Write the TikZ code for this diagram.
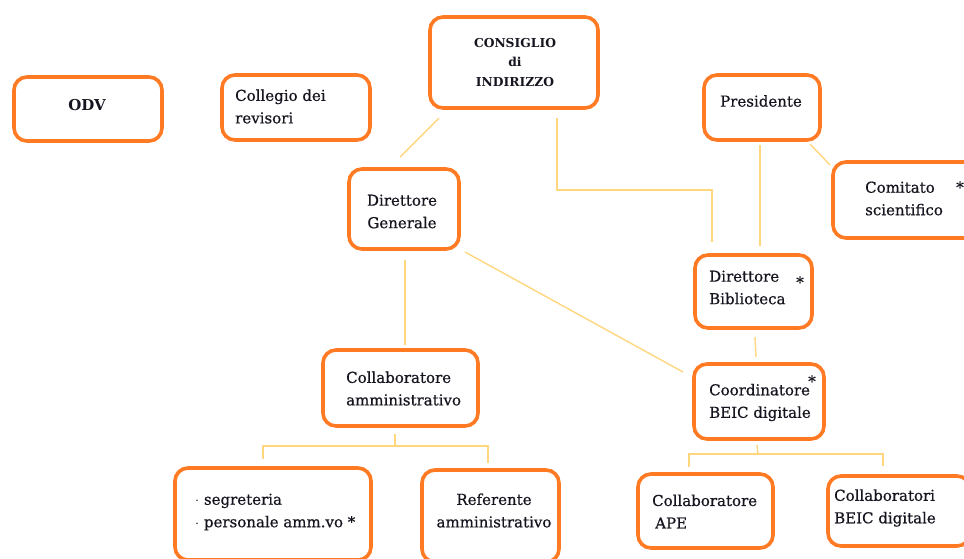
\documentclass[tikz,border=0pt]{standalone}
\usepackage{fontspec}
\setmainfont{DejaVu Serif}
\newfontfamily\heavyserif[FakeBold=0.6]{DejaVu Serif}
\usetikzlibrary{calc}
\definecolor{boxorange}{HTML}{FF7A22}
\definecolor{linkyellow}{HTML}{FFD77E}
\definecolor{txtcol}{HTML}{15151F}
\begin{document}
\begin{tikzpicture}[x=1pt,y=-1pt,
  orgbox/.style={draw=boxorange, line width=3.6pt, rounded corners=13pt, inner sep=0pt},
  lbl/.style={text=txtcol, font=\heavyserif\fontsize{15}{22.5}\selectfont, inner sep=0pt, align=left, anchor=west},
  lblc/.style={lbl, align=center, anchor=center},
  boldlbl/.style={text=txtcol, font=\bfseries\fontsize{12.3}{19.5}\selectfont, inner sep=0pt, align=center, anchor=center},
  link/.style={draw=linkyellow, line width=1.4pt}]
\useasboundingbox (0,0) rectangle (964,558);
\clip (0,0) rectangle (964,558);
\fill[white] (0,0) rectangle (964,558);

% boxes
\node[orgbox, minimum width=148pt, minimum height=64pt] (odv) at (88,109) {};
\node[orgbox, minimum width=148pt, minimum height=65pt] (col) at (296,107.5) {};
\node[orgbox, minimum width=168pt, minimum height=91pt] (cons) at (514,62.5) {};
\node[orgbox, minimum width=116pt, minimum height=65pt] (pres) at (762,107.5) {};
\node[orgbox, minimum width=150pt, minimum height=76pt] (com) at (908,200) {};
\node[orgbox, minimum width=110pt, minimum height=80pt] (dg) at (404,209) {};
\node[orgbox, minimum width=117pt, minimum height=73pt] (db) at (753.5,291.5) {};
\node[orgbox, minimum width=155pt, minimum height=76pt] (ca) at (400.5,388) {};
\node[orgbox, minimum width=130pt, minimum height=75pt] (cb) at (759,401.5) {};
\node[orgbox, minimum width=196pt, minimum height=92pt] (seg) at (273,514) {};
\node[orgbox, minimum width=137pt, minimum height=92pt] (ref) at (490.5,516) {};
\node[orgbox, minimum width=135pt, minimum height=74pt] (ape) at (705.5,511) {};
\node[orgbox, minimum width=142pt, minimum height=70pt] (cbd) at (899,511) {};

% texts
\node[boldlbl, font=\bfseries\fontsize{15}{18}\selectfont] (odvt) at (87,105) {ODV};
\node[lbl] (colt) at (235,106.5) {Collegio dei\\revisori};
\node[boldlbl] (const) at (515,62.5) {CONSIGLIO\\di\\INDIRIZZO};
\node[lblc] (prest) at (761,101) {Presidente};
\node[lbl] (comt) at (865,198.5) {Comitato\\scientifico};
\node[lblc] (comstar) at (960,187) {*};
\node[lblc] (dgt) at (402,211.5) {Direttore\\Generale};
\node[lbl] (dbt) at (709,287.5) {Direttore\\Biblioteca};
\node[lblc] (dbstar) at (800,282) {*};
\node[lbl] (cat) at (346,388.5) {Collaboratore\\amministrativo};
\node[lbl] (cbt) at (709,402.5) {Coordinatore\\BEIC digitale};
\node[lblc] (cbstar) at (812,381) {*};
\node[lbl] (segt) at (195,512) {$\cdot$ segreteria\\$\cdot$ personale amm.vo *};
\node[lblc] (reft) at (494,510.5) {Referente\\amministrativo};
\node[lbl] (apet) at (652,511.5) {Collaboratore\\\hspace*{3pt}APE};
\node[lbl] (cbdt) at (834,508) {Collaboratori\\BEIC digitale};

% connector ends
\coordinate (k1a) at (439,118);  \coordinate (k1b) at (400,157);
\coordinate (k2a) at (557,118);  \coordinate (k2m) at (712,190); \coordinate (k2b) at (712,242);
\coordinate (k3a) at (760,145);  \coordinate (k3b) at (760,246);
\coordinate (k4a) at (810,144);  \coordinate (k4b) at (830,165);
\coordinate (k5a) at (405,260);  \coordinate (k5b) at (405,345);
\coordinate (k6a) at (465,252);  \coordinate (k6b) at (683,372);
\coordinate (k7a) at (755,337);  \coordinate (k7b) at (756,357);
\coordinate (k8a) at (395,434);  \coordinate (k8m) at (395,446);
\coordinate (k8l) at (263,459);  \coordinate (k8r) at (488,463);
\coordinate (k9a) at (757,445);  \coordinate (k9m) at (758,454);
\coordinate (k9l) at (689,467);  \coordinate (k9r) at (883,466);

\draw[link] (k1a) -- (k1b);
\draw[link] (k2a) |- (k2m) -- (k2b);
\draw[link] (k3a) -- (k3b);
\draw[link] (k4a) -- (k4b);
\draw[link] (k5a) -- (k5b);
\draw[link] (k6a) -- (k6b);
\draw[link] (k7a) -- (k7b);
\draw[link] (k8a) -- (k8m);
\draw[link] (k8l) |- (k8m) -| (k8r);
\draw[link] (k9a) -- (k9m);
\draw[link] (k9l) |- (k9m) -| (k9r);
\end{tikzpicture}
\end{document}
